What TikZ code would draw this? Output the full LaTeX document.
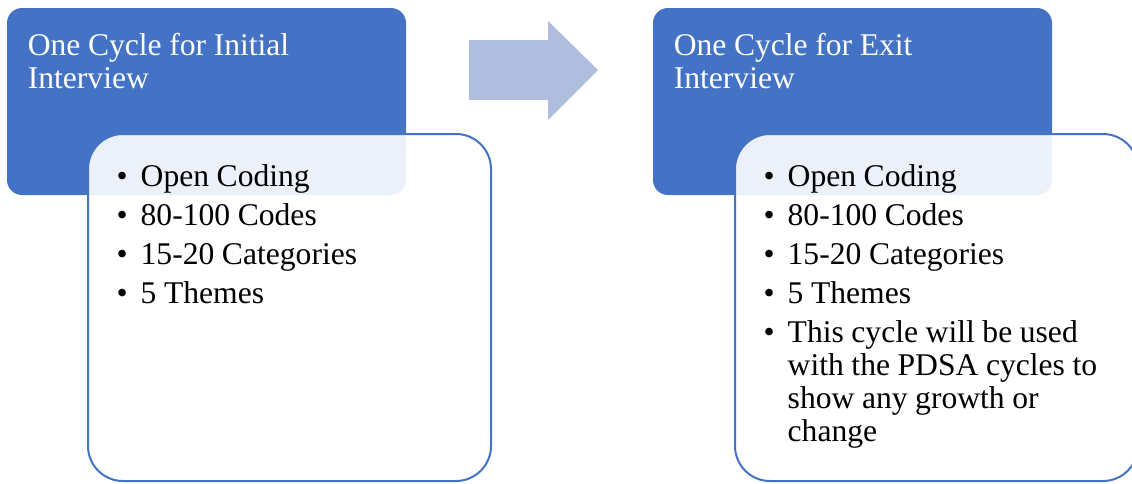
\documentclass[tikz,border=0pt]{standalone}
\usepackage{fontspec}
\setmainfont{Liberation Serif}
\usepackage{xcolor}
\usetikzlibrary{positioning}

\definecolor{cycleblue}{HTML}{4472C4}
\definecolor{arrowblue}{HTML}{B0BDDF}

\newcommand{\cyclefont}{\fontsize{31.6}{33}\selectfont}
\newcommand{\cycletitle}[1]{\parbox[t]{370pt}{\raggedright\setlength{\spaceskip}{0.24em}#1}}
\newcommand{\cycleitem}[1]{\noindent\makebox[24pt][l]{\textbullet}\parbox[t]{340pt}{\raggedright\setlength{\spaceskip}{0.24em}#1}\par}

\begin{document}
\begin{tikzpicture}[x=1pt, y=-1pt,
  hdrbox/.style={rectangle, rounded corners=15pt, fill=cycleblue, minimum width=399pt, minimum height=187pt, anchor=north west, outer sep=0pt},
  bodybox/.style={rectangle, rounded corners=35pt, draw=cycleblue, line width=2pt, fill=white, fill opacity=0.9, minimum width=403pt, minimum height=347pt, anchor=north west, outer sep=0pt},
  hdrtext/.style={text=white, inner sep=0pt, font=\cyclefont},
  listtext/.style={inner sep=0pt, text width=370pt, font=\cyclefont\setlength{\parskip}{6pt}}]
  \useasboundingbox (0,0) rectangle (1132,483);
  % initial interview
  \node[hdrbox] (inithdr) at (7,8) {};
  \node[hdrtext, below right=25.4pt and 20.6pt of inithdr.north west] (inittitle) {\cycletitle{One Cycle for Initial\\Interview}};
  \node[bodybox] (initbody) at (88,134) {};
  \node[listtext, below right=30.4pt and 28.5pt of initbody.north west] (initlist)
    {\cycleitem{Open Coding}\cycleitem{80-100 Codes}\cycleitem{15-20 Categories}\cycleitem{5 Themes}};
  % arrow
  \fill[arrowblue] (469,40) -- (548,40) -- (548,21) -- (598,70) -- (548,120) -- (548,100) -- (469,100) -- cycle;
  % exit interview
  \node[hdrbox] (exithdr) at (653,8) {};
  \node[hdrtext, below right=25.4pt and 20.6pt of exithdr.north west] (exittitle) {\cycletitle{One Cycle for Exit\\Interview}};
  \node[bodybox] (exitbody) at (735,134) {};
  \node[listtext, below right=30.4pt and 28.5pt of exitbody.north west] (exitlist)
    {\cycleitem{Open Coding}\cycleitem{80-100 Codes}\cycleitem{15-20 Categories}\cycleitem{5 Themes}%
     \cycleitem{This cycle will be used\\with the PDSA cycles to\\show any growth or\\change}};
\end{tikzpicture}
\end{document}
